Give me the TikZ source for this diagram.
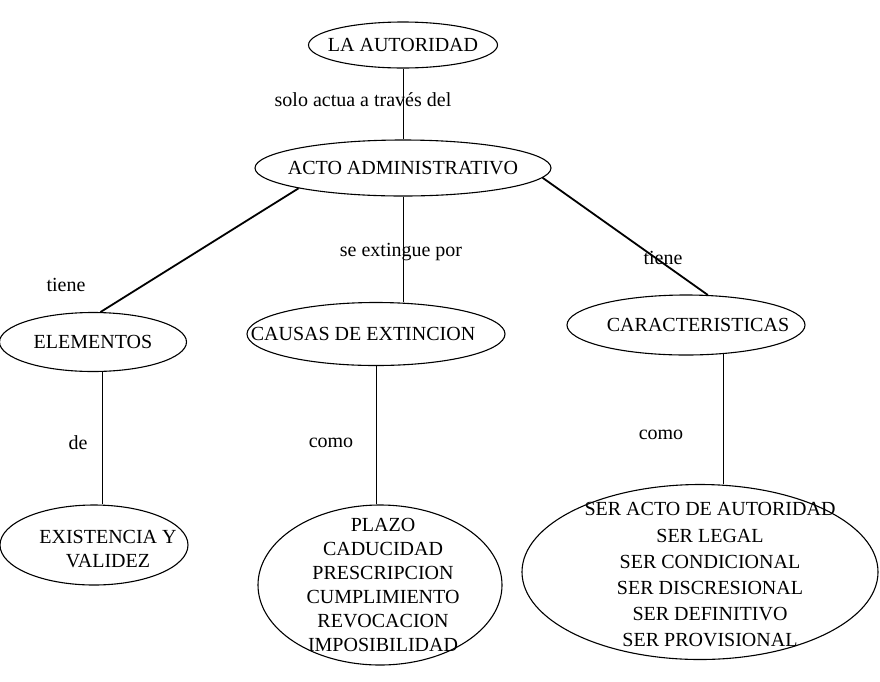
\documentclass[tikz,border=0pt]{standalone}
\usepackage{fontspec}
\setmainfont{Liberation Serif}
\usetikzlibrary{shapes.geometric}
\begin{document}
\begin{tikzpicture}[x=1pt,y=-1pt,
  ell/.style={ellipse,draw,line width=1.1pt,inner sep=0pt},
  txt/.style={font=\fontsize{20}{24}\selectfont,align=center,inner sep=0pt},
  lbl/.style={font=\fontsize{20}{24}\selectfont,inner sep=0pt},
  vline/.style={line width=1pt},
  dline/.style={line width=1.8pt}]
\useasboundingbox (0,0) rectangle (880,681);
% ellipses
\node[ell,minimum width=189,minimum height=46] (aut) at (403,45) {};
\node[ell,minimum width=296,minimum height=56] (acto) at (403,168) {};
\node[ell,minimum width=187,minimum height=59] (elem) at (93,342) {};
\node[ell,minimum width=258,minimum height=63] (causas) at (376,334) {};
\node[ell,minimum width=238,minimum height=60] (car) at (686,325) {};
\node[ell,minimum width=188,minimum height=80] (exist) at (94,545) {};
\node[ell,minimum width=244,minimum height=160] (plazo) at (380,585) {};
\node[ell,minimum width=356,minimum height=175] (ser) at (700,572) {};
% texts
\node[txt] (tAut) at (aut) {LA AUTORIDAD};
\node[txt] (tActo) at (acto) {ACTO ADMINISTRATIVO};
\node[txt] (tElem) at (elem) {ELEMENTOS};
\node[txt] (tCausas) at (363,334) {CAUSAS DE EXTINCION};
\node[txt] (tCar) at (698,325) {CARACTERISTICAS};
\node[txt,font=\fontsize{20}{24}\selectfont] (tExist) at (108,549) {EXISTENCIA Y\\VALIDEZ};
\node[txt,font=\fontsize{20}{24}\selectfont] (tPlazo) at (383,585) {PLAZO\\CADUCIDAD\\PRESCRIPCION\\CUMPLIMIENTO\\REVOCACION\\IMPOSIBILIDAD};
\node[txt,font=\fontsize{20}{26.2}\selectfont] (tSer) at (710,575) {SER ACTO DE AUTORIDAD\\SER LEGAL\\SER CONDICIONAL\\SER DISCRESIONAL\\SER DEFINITIVO\\SER PROVISIONAL};
% connectors
\draw[vline] (aut.south) -- (aut.south |- acto.north);
\draw[dline] (acto.191) -- (elem.76);
\draw[vline] (acto.south) -- (acto.south |- causas.north);
\draw[dline] (acto.-4) -- (car.54);
\draw[vline] (elem.-72) -- (elem.-72 |- exist.north);
\draw[vline] (causas.south) -- (causas.south |- plazo.north);
\draw[vline] (car.-38.5) -- (car.-38.5 |- ser.north);
% labels
\node[lbl] (l1) at (363,100) {solo actua a través del};
\node[lbl] (l2) at (401,252) {se extingue por};
\node[lbl] (l3) at (66,285) {tiene};
\node[lbl] (l4) at (663,258) {tiene};
\node[lbl] (l5) at (78,443) {de};
\node[lbl] (l6) at (331,443) {como};
\node[lbl] (l7) at (661,435) {como};
\end{tikzpicture}
\end{document}
